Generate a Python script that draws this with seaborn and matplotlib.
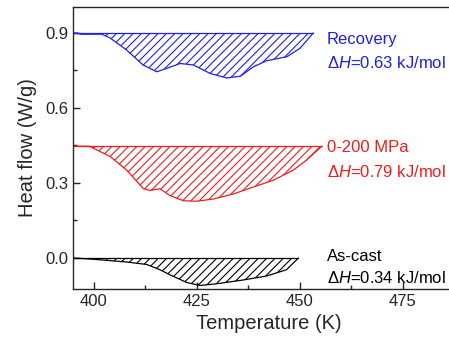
import numpy as np
import pandas as pd
import seaborn as sns
import matplotlib.pyplot as plt

# Recovery curve (blue), baseline 0.9
rec_temp = [395, 396, 397, 402, 404, 408, 412, 415.3, 417.7, 421, 424.2, 428.3, 432.3,
            435.6, 438.8, 442, 446.9, 450.1, 453.3]
rec_flow = [0.9, 0.9, 0.895, 0.895, 0.88, 0.832, 0.772, 0.745, 0.758, 0.778, 0.772, 0.738,
            0.72, 0.727, 0.765, 0.789, 0.805, 0.839, 0.9]
rec_base = 0.9

# 0-200 MPa curve (red)
mpa_temp = [395, 399, 404, 408, 412.1, 413.7, 416.1, 418.5, 421.8, 425, 429.1, 433.9,
            438.8, 443.6, 448.5, 451.7, 455.4]
mpa_flow = [0.447, 0.447, 0.406, 0.352, 0.277, 0.27, 0.277, 0.25, 0.229, 0.227, 0.236,
            0.256, 0.284, 0.311, 0.352, 0.392, 0.447]
mpa_base = 0.447

# As-cast curve (black)
cast_temp = [395, 399.9, 408, 412.9, 416.1, 418.5, 422.6, 425.8, 429.9, 436.3, 442,
             446.8, 449.7]
cast_flow = [0.0, -0.005, -0.016, -0.026, -0.047, -0.067, -0.098, -0.11, -0.103, -0.088,
             -0.072, -0.047, 0.0]
cast_base = 0.0

names = ["Recovery", "0-200 MPa", "As-cast"]
enthalpy = ["0.63", "0.79", "0.34"]
colors = ["#1f1fe6", "#ee1c1c", "#000000"]
label_y = [(0.872, 0.78), (0.44, 0.344), (0.004, -0.08)]

sns.set_style("ticks")
plt.rcParams['font.family'] = ['Liberation Sans', 'DejaVu Sans']
plt.rcParams['mathtext.fontset'] = 'custom'
plt.rcParams['mathtext.it'] = 'Liberation Sans:italic'
plt.rcParams['mathtext.rm'] = 'Liberation Sans'
plt.rcParams['hatch.linewidth'] = 0.8

fig = plt.figure(figsize=(4.49, 3.42), dpi=100)
ax = fig.add_axes([0.1626, 0.155, 0.872, 0.8246])

curves = [(rec_temp, rec_flow, rec_base), (mpa_temp, mpa_flow, mpa_base),
          (cast_temp, cast_flow, cast_base)]
for (t, f, b), name, dh, c, (y1, y2) in zip(curves, names, enthalpy, colors, label_y):
    df = pd.DataFrame({"T": t, "Q": f})
    sns.lineplot(data=df, x="T", y="Q", sort=False, color=c, lw=0.9, ax=ax)
    ax.plot([t[0], t[-1]], [b, b], color=c, lw=0.9)
    ax.fill_between(t, f, b, facecolor="none", edgecolor=c, hatch="////", lw=0)
    ax.text(456.6, y1, name, color=c, fontsize=12, va="center")
    ax.text(456.6, y2, r"$\Delta H$=" + dh + " kJ/mol", color=c, fontsize=12, va="center")

ax.set_xlim(395, 490)
ax.set_ylim(-0.124, 1.004)
ax.set_xticks([400, 425, 450, 475])
ax.set_xticks([412.5, 437.5, 462.5], minor=True)
ax.set_yticks([0.0, 0.3, 0.6, 0.9])
ax.set_yticks([0.15, 0.45, 0.75], minor=True)
ax.set_yticklabels(["0.0", "0.3", "0.6", "0.9"])
ax.tick_params(which="both", direction="in", labelsize=12, width=1)
ax.tick_params(which="major", length=5)
ax.tick_params(which="minor", length=3)
for s in ax.spines.values():
    s.set_linewidth(1)
ax.set_xlabel("Temperature (K)", fontsize=14.5)
ax.set_ylabel("Heat flow (W/g)", fontsize=14.5, labelpad=6)

fig.savefig("out.png", dpi=100)
